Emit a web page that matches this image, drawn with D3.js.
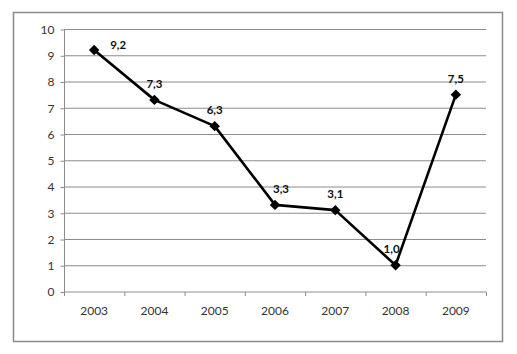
<!DOCTYPE html>
<html><head><meta charset="utf-8">
<script src="https://cdn.jsdelivr.net/npm/d3@7"></script>
<style>body{margin:0;background:#fff}svg{display:block}</style>
</head><body><svg id="c" width="517" height="354"></svg>
<script>
const years = ["2003","2004","2005","2006","2007","2008","2009"];
const values = [9.2, 7.3, 6.3, 3.3, 3.1, 1.0, 7.5];
const yTicks = [0,1,2,3,4,5,6,7,8,9,10];

const svg = d3.select("#c");
const font = "Lato, 'Open Sans', sans-serif";
svg.append("rect").attr("x",13.5).attr("y",12.5).attr("width",489).attr("height",329)
  .attr("fill","#fff").attr("stroke","#8a8a8a").attr("stroke-width",1.5);

const x = d3.scaleBand().domain(years).range([64,486]);
const y = d3.scaleLinear().domain([0,10]).range([291.5,29]);

// gridlines
svg.append("g").selectAll("line").data(yTicks.filter(d=>d>0)).join("line")
  .attr("x1",64).attr("x2",486).attr("y1",d=>y(d)+0.5).attr("y2",d=>y(d)+0.5)
  .attr("stroke","#8c8c8c").attr("stroke-width",1.2);

// y axis
const ya = svg.append("g").attr("transform","translate(64.5,0.5)")
  .call(d3.axisLeft(y).tickValues(yTicks).tickSize(4).tickPadding(6).tickFormat(d3.format("d")));
ya.select(".domain").attr("stroke","#8c8c8c").attr("d","M0,"+(y(10))+"V"+y(0));
ya.selectAll(".tick line").attr("stroke","#8c8c8c");
ya.selectAll("text").attr("font-family",font).attr("font-size",12).attr("fill","#333");

// x axis
const xa = svg.append("g").attr("transform","translate(0,"+(y(0)+0.5)+")")
  .call(d3.axisBottom(x).tickSize(0).tickPadding(14));
xa.select(".domain").attr("stroke","#8c8c8c").attr("d","M64,0H486");
xa.selectAll("text").attr("font-family",font).attr("font-size",12).attr("fill","#333");
xa.append("g").selectAll("line").data(years.map(d=>x(d)).concat([486])).join("line")
  .attr("x1",d=>d+0.5).attr("x2",d=>d+0.5).attr("y1",0).attr("y2",4).attr("stroke","#8c8c8c");

const cx = d => x(d) + x.bandwidth()/2;
const pts = years.map((d,i)=>[cx(d), y(values[i])]);
svg.append("path").attr("d", d3.line()(pts)).attr("fill","none")
  .attr("stroke","#000").attr("stroke-width",2.6).attr("stroke-linejoin","round");

svg.append("g").selectAll("path").data(pts).join("path")
  .attr("transform",p=>`translate(${p[0]},${p[1]})`)
  .attr("d", d3.symbol(d3.symbolDiamond2, 70)()).attr("fill","#000")
  .attr("transform",p=>`translate(${p[0]},${p[1]}) rotate(0)`);

const fmt = v => d3.format(".1f")(v).replace(".",",");
svg.append("g").selectAll("text").data(values).join("text")
  .attr("x",(v,i)=> pts[i][0] + (i===0 ? 24 : (i===3 ? 6 : (i===5 ? -4 : 0))))
  .attr("y",(v,i)=> pts[i][1] + (i===0 ? -1 : -12))
  .attr("text-anchor","middle").attr("font-family",font).attr("font-weight","bold")
  .attr("font-size",11.5).attr("fill","#111").text(fmt);
</script></body></html>
